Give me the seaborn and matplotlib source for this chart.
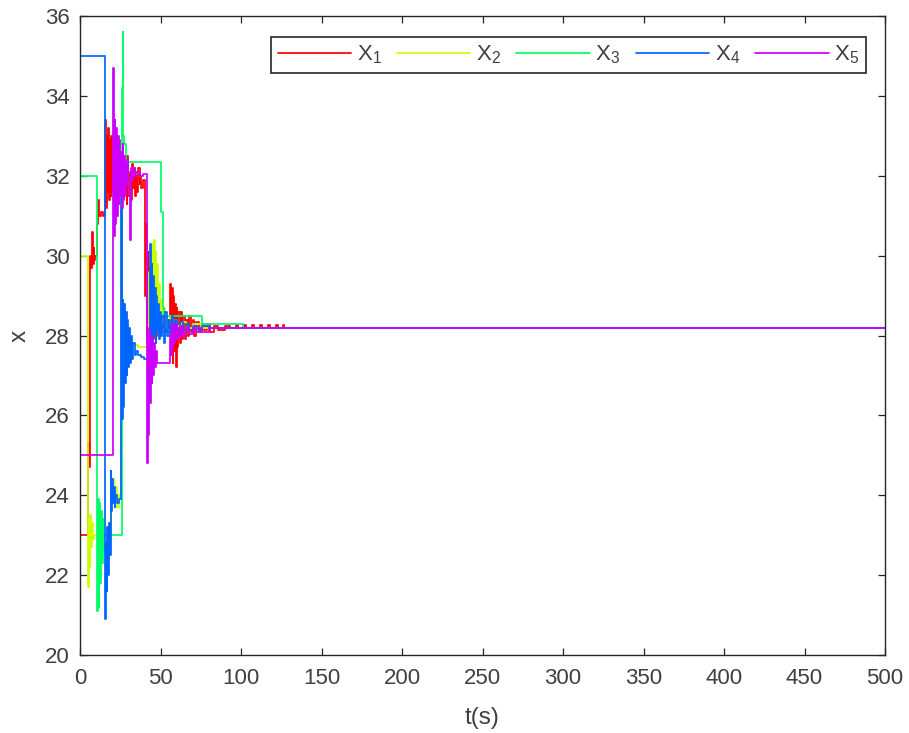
import numpy as np
import pandas as pd
import matplotlib
matplotlib.use("Agg")
import matplotlib.pyplot as plt
import seaborn as sns
from matplotlib.lines import Line2D

# ---------------- data (step breakpoints: time [s], value) ----------------
x1_t = [0, 5, 5.5, 6, 6.5, 7, 7.5, 8, 8.5, 9, 9.5, 10.5, 11, 11.5, 13, 14,
        15.5, 16, 16.5, 17, 17.5, 18, 18.5, 19, 19.5, 20, 20.5, 21, 21.5, 22, 22.5, 23, 23.5, 24, 24.5, 25, 25.5, 26, 26.5,
        27, 27.5, 28, 28.5, 29, 29.5, 30, 31, 31.5, 32, 33, 33.5, 34, 35, 35.5, 36, 37, 37.5, 38, 39,
        40.5, 41, 41.5, 42, 42.5, 43, 43.5, 44, 44.5, 45, 45.5, 46, 46.5, 47, 47.5, 48, 48.5, 49, 49.5, 50, 50.5, 51, 52, 52.5, 53, 54, 55,
        56, 56.5, 57, 57.5, 58, 58.5, 59, 59.5, 60, 60.5, 61, 62, 63, 63.5, 64, 65, 66, 67, 68, 69, 70, 71, 72, 74, 75, 77, 79, 81, 83, 86, 90, 93,
        97, 98, 102, 103, 107, 108, 112, 113, 117, 118, 122, 123, 126, 127, 500]
x1_v = [23.0, 25.3, 24.7, 25.2, 30.0, 29.7, 30.6, 29.8, 30.2, 29.9, 30.0, 30.8, 31.4, 31.0, 31.1, 31.0,
        33.4, 31.2, 33.0, 31.6, 33.2, 31.4, 32.9, 31.5, 33.0, 31.6, 32.6, 31.5, 32.8, 31.7, 32.5, 31.6, 32.7, 31.8, 32.4, 31.5, 32.6, 31.9, 32.3,
        31.4, 32.4, 31.6, 32.2, 31.3, 32.5, 31.5, 32.1, 31.4, 32.3, 31.7, 32.2, 31.5, 32.0, 31.6, 32.2, 31.8, 32.0, 31.7, 31.9,
        29.0, 30.8, 27.8, 30.1, 28.2, 29.7, 27.6, 29.9, 28.4, 29.4, 27.9, 29.6, 28.3, 29.2, 28.0, 29.0, 28.5, 28.9, 28.05, 28.7, 28.1, 28.6, 28.2, 28.5, 28.1, 28.4, 28.2,
        29.3, 27.6, 29.2, 27.3, 29.0, 27.6, 28.8, 27.2, 28.7, 27.7, 28.6, 27.8, 28.6, 27.9, 28.5, 27.9, 28.4, 28.0, 28.5, 28.1, 28.4, 28.0, 28.35, 28.1, 28.3, 28.15, 28.3, 28.1, 28.25, 28.15, 28.25, 28.2,
        28.27, 28.2, 28.27, 28.2, 28.27, 28.2, 28.27, 28.2, 28.27, 28.2, 28.27, 28.2, 28.27, 28.2, 28.2]

x2_t = [0, 5, 5.5, 6, 6.5, 7, 7.5, 8, 9, 19, 19.5, 20, 21, 22, 23, 24, 25.5, 26, 27, 28, 29, 30, 32, 34, 36, 40, 42,
        43, 43.5, 44, 44.5, 45, 45.5, 46, 46.5, 47, 47.5, 48, 48.5, 49, 49.5, 50, 51, 52, 53, 54, 56, 58, 60, 63, 66, 70, 75, 500]
x2_v = [30.0, 21.7, 23.4, 22.2, 23.5, 22.7, 23.3, 22.9, 23.0, 24.6, 23.8, 24.4, 23.9, 24.2, 23.7, 24.0, 31.4, 28.9, 28.8, 28.4, 28.1, 27.9, 27.8, 27.75, 27.7, 27.7, 28.0,
        29.6, 28.2, 29.9, 28.4, 30.3, 28.3, 30.4, 28.5, 30.1, 28.6, 29.8, 28.4, 29.3, 28.2, 28.9, 28.3, 28.7, 28.2, 28.5, 28.3, 28.4, 28.25, 28.35, 28.2, 28.3, 28.2, 28.2]

x3_t = [0, 10.5, 11, 11.5, 12, 12.5, 13, 13.5, 14, 14.5, 15, 25.8, 26.5, 27, 27.5, 28.5, 50, 51.5, 52, 75.5, 101, 500]
x3_v = [32.0, 21.1, 23.9, 21.2, 23.8, 21.8, 23.6, 22.3, 23.4, 22.6, 23.0, 34.2, 35.6, 33.0, 32.8, 32.35, 31.1, 28.7, 28.5, 28.3, 28.2, 28.2]

x4_t = [0, 15.5, 16, 16.5, 17, 17.5, 18, 18.5, 19, 19.5, 20, 20.5, 21, 21.5, 22, 23, 24,
        25.5, 26, 26.5, 27, 27.5, 28, 28.5, 29, 29.5, 30, 30.5, 31, 31.5, 32, 33, 34, 35, 36, 38, 40, 42,
        43.5, 44, 44.5, 45, 45.5, 46, 46.5, 47, 47.5, 48, 48.5, 49, 49.5, 50, 51, 52, 53, 54, 55, 56, 57, 58, 59, 60,
        62, 64, 66, 68, 70, 73, 76, 80, 500]
x4_v = [35.0, 20.9, 22.8, 21.6, 23.2, 22.0, 23.3, 22.5, 24.6, 23.6, 24.4, 23.8, 24.2, 23.7, 24.0, 23.8, 23.9,
        32.0, 25.9, 28.9, 26.2, 28.8, 26.8, 28.6, 27.0, 28.4, 27.2, 28.2, 27.3, 28.0, 27.4, 27.8, 27.5, 27.6, 27.5, 27.45, 27.4, 27.3,
        30.3, 27.6, 29.8, 27.9, 29.5, 28.0, 29.2, 27.8, 29.0, 28.1, 28.8, 27.9, 28.6, 28.0, 28.5, 27.8, 28.6, 28.0, 28.4, 28.1, 28.5, 28.0, 28.4, 28.1,
        28.35, 28.15, 28.3, 28.15, 28.25, 28.15, 28.25, 28.2, 28.2]

x5_t = [0, 20.5, 21, 21.5, 22, 22.5, 23, 23.5, 24, 24.5, 25, 25.5, 26, 26.5, 27, 27.5, 28, 28.5, 29, 29.5, 30, 31, 31.5, 32, 33, 34, 35, 37, 39,
        41.5, 42, 42.5, 43, 43.5, 44, 44.5, 45, 45.5, 46, 46.5, 47, 48,
        56, 56.5, 57, 57.5, 58, 58.5, 59, 60, 61, 62, 63, 64, 66, 68, 70, 72, 74, 76, 80, 500]
x5_v = [25.0, 34.7, 30.5, 33.4, 30.8, 33.2, 31.0, 33.0, 31.3, 32.9, 31.5, 32.6, 31.2, 32.8, 31.6, 32.5, 31.5, 32.3, 31.8, 32.4, 31.9, 30.4, 32.2, 31.9, 32.2, 32.0, 32.1, 32.0, 32.05,
        24.8, 28.0, 25.5, 28.2, 26.3, 28.0, 26.8, 27.9, 27.0, 27.8, 27.2, 27.6, 27.3,
        28.0, 27.5, 28.3, 27.7, 28.2, 27.8, 28.3, 27.9, 28.2, 27.95, 28.25, 28.0, 28.2, 28.05, 28.2, 28.1, 28.2, 28.1, 28.2, 28.2]

series_names = ["x1", "x2", "x3", "x4", "x5"]
legend_labels = ["X$_1$", "X$_2$", "X$_3$", "X$_4$", "X$_5$"]
colors = ["#ff0000", "#ccff00", "#00ff66", "#0066ff", "#cc00ff"]

times = [x1_t, x2_t, x3_t, x4_t, x5_t]
values = [x1_v, x2_v, x3_v, x4_v, x5_v]

frames = []
for name, t, v in zip(series_names, times, values):
    frames.append(pd.DataFrame({"t": t, "x": v, "series": name}))
df = pd.concat(frames, ignore_index=True)

# ---------------- style ----------------
sns.set_theme(style="white")
plt.rcParams["font.family"] = ["Liberation Sans", "DejaVu Sans"]
plt.rcParams["mathtext.default"] = "regular"

fig = plt.figure(figsize=(9.09, 7.33), dpi=100)
ax = fig.add_axes([80 / 909, 1 - 655 / 733, 805 / 909, 639 / 733])

sns.lineplot(data=df, x="t", y="x", hue="series", palette=colors, hue_order=series_names,
             estimator=None, sort=False, drawstyle="steps-post", linewidth=1.25,
             legend=False, ax=ax)

ax.set_xlim(0, 500)
ax.set_ylim(20, 36)
ax.set_xticks(np.arange(0, 501, 50))
ax.set_yticks(np.arange(20, 37, 2))

axis_color = "#262626"
label_color = "#404040"
for sp in ax.spines.values():
    sp.set_visible(True)
    sp.set_color(axis_color)
    sp.set_linewidth(1.0)
ax.tick_params(axis="both", which="both", direction="in", length=4.8, width=0.9,
               top=True, right=True, bottom=True, left=True,
               colors=axis_color, labelsize=16, labelcolor=label_color)
ax.tick_params(axis="x", pad=9)
ax.tick_params(axis="y", pad=7.5)

ax.set_xlabel("t(s)", fontsize=17.5, color=label_color, labelpad=13)
ax.set_ylabel("x", fontsize=17.5, color=label_color, labelpad=10)

handles = [Line2D([0], [0], color=c, lw=1.25) for c in colors]
leg = ax.legend(handles, legend_labels, loc="upper right",
                bbox_to_anchor=((866 - 80) / 805, (655 - 37) / 639),
                ncol=5, fontsize=16, frameon=True, fancybox=False, framealpha=1,
                handlelength=3.3, handletextpad=0.25, columnspacing=0.7,
                borderaxespad=0, borderpad=0.3)
leg.get_frame().set_edgecolor(axis_color)
leg.get_frame().set_linewidth(1.2)
for txt in leg.get_texts():
    txt.set_color(label_color)

fig.savefig("out.png", dpi=100)
